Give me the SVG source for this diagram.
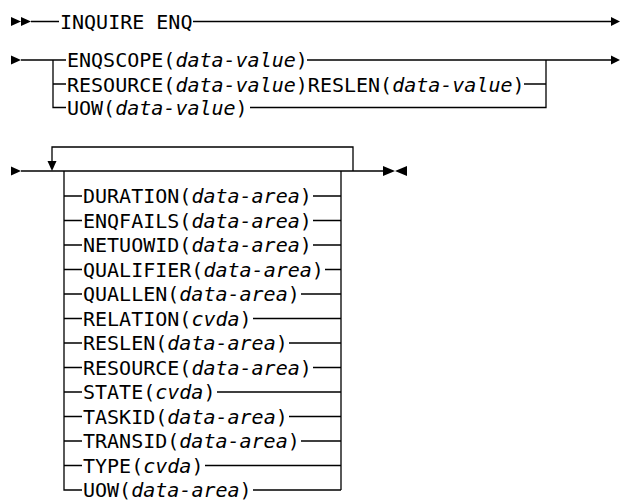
<svg xmlns="http://www.w3.org/2000/svg" width="620" height="501" viewBox="0 0 620 501">
<style>
text{font-family:"DejaVu Sans Mono","Liberation Mono",monospace;font-size:20px;fill:#000}
.i{font-style:italic}
.l{fill:none;stroke:#000;stroke-width:1.3}
.a{fill:#000;stroke:none}
</style>
<rect width="620" height="501" fill="#fff"/>
<g id="connectors">
<path class="a" d="M11,17 L21,21.5 L11,26 Z M21,17 L31,21.5 L21,26 Z"/>
<path class="l" d="M31,21.5 H59 M193,21.5 H611"/>
<path class="a" d="M611,17 L620,21.5 L611,26 Z"/>
<path class="a" d="M11,55.5 L21,60 L11,64.5 Z"/>
<path class="l" d="M21,60 H66 M307,60 H611"/>
<path class="a" d="M611,55.5 L620,60 L611,64.5 Z"/>
<path class="l" d="M53,60 V107.5 H66 M53,84 H66 M524,84 H545.5 M546,60 V107.5 H250"/>
<path class="a" d="M11,166.5 L21,171 L11,175.5 Z"/>
<path class="l" d="M21,171 H383"/>
<path class="l" d="M52,162 V147 H353 V171"/>
<path class="a" d="M47.5,161 L56.5,161 L52,171 Z"/>
<path class="a" d="M383,166 L395,171 L383,176 Z M407,166 L395,171 L407,176 Z"/>
<path class="l" d="M64,171 V490 H82 M341,171 V490"/>
<path class="l" d="M64,196 H82 M64,220.5 H82 M64,245 H82 M64,269.5 H82 M64,294 H82 M64,318.5 H82 M64,343 H82 M64,367.5 H82 M64,392 H82 M64,416.5 H82 M64,441 H82 M64,465.5 H82"/>
<path class="l" d="M313,196 H341 M313,220.5 H341 M313,245 H341 M325,269.5 H341 M301,294 H341 M253,318.5 H341 M289,343 H341 M313,367.5 H341 M217,392 H341 M289,416.5 H341 M301,441 H341 M205,465.5 H341 M253,490 H341"/>
</g>
<g id="inquire-enq"><text x="60" y="29">INQUIRE ENQ</text></g>
<g id="enqscope"><text x="67" y="67">ENQSCOPE(<tspan class="i">data-value</tspan>)</text></g>
<g id="resource-reslen"><text x="67" y="91.5">RESOURCE(<tspan class="i">data-value</tspan>)RESLEN(<tspan class="i">data-value</tspan>)</text></g>
<g id="uow-value"><text x="67" y="115">UOW(<tspan class="i">data-value</tspan>)</text></g>
<g id="duration"><text x="83" y="203">DURATION(<tspan class="i">data-area</tspan>)</text></g>
<g id="enqfails"><text x="83" y="227.5">ENQFAILS(<tspan class="i">data-area</tspan>)</text></g>
<g id="netuowid"><text x="83" y="252">NETUOWID(<tspan class="i">data-area</tspan>)</text></g>
<g id="qualifier"><text x="83" y="276.5">QUALIFIER(<tspan class="i">data-area</tspan>)</text></g>
<g id="quallen"><text x="83" y="301">QUALLEN(<tspan class="i">data-area</tspan>)</text></g>
<g id="relation"><text x="83" y="325.5">RELATION(<tspan class="i">cvda</tspan>)</text></g>
<g id="reslen"><text x="83" y="350">RESLEN(<tspan class="i">data-area</tspan>)</text></g>
<g id="resource"><text x="83" y="374.5">RESOURCE(<tspan class="i">data-area</tspan>)</text></g>
<g id="state"><text x="83" y="399">STATE(<tspan class="i">cvda</tspan>)</text></g>
<g id="taskid"><text x="83" y="423.5">TASKID(<tspan class="i">data-area</tspan>)</text></g>
<g id="transid"><text x="83" y="448">TRANSID(<tspan class="i">data-area</tspan>)</text></g>
<g id="type"><text x="83" y="472.5">TYPE(<tspan class="i">cvda</tspan>)</text></g>
<g id="uow-area"><text x="83" y="497">UOW(<tspan class="i">data-area</tspan>)</text></g>
</svg>
